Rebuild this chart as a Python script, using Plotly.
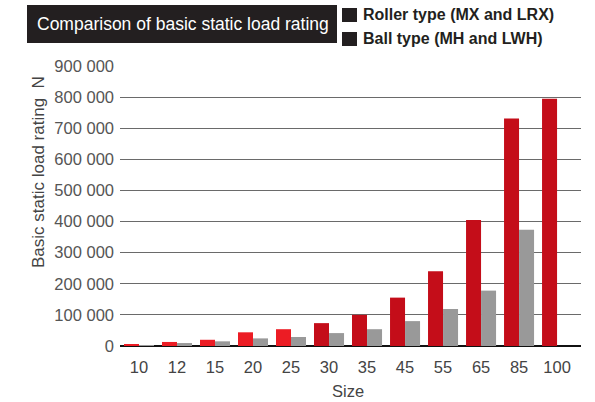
import plotly.graph_objects as go

sizes = ["10", "12", "15", "20", "25", "30", "35", "45", "55", "65", "85", "100"]
roller = [6000, 13000, 20000, 44000, 54000, 73500, 100000, 155500, 240000, 405000, 731000, 795000]
ball = [3000, 9500, 15000, 24500, 29000, 41500, 54000, 80000, 119000, 178000, 374000, 0]
ytick_vals = [0, 100000, 200000, 300000, 400000, 500000, 600000, 700000, 800000, 900000]
ytick_text = ["0", "100 000", "200 000", "300 000", "400 000", "500 000",
              "600 000", "700 000", "800 000", "900 000"]

bright_red = "#EC1C24"
dark_red = "#C40D19"
roller_colors = [bright_red if s in ("10", "12", "15", "20", "25") else dark_red for s in sizes]

font_fam = "Liberation Sans, Arial, Helvetica, sans-serif"

L, T = 120, 66
PW, PH = 461, 280


def px(x):
    return (x - 120) / PW


def py(y):
    return (346 - y) / PH


fig = go.Figure()
fig.add_bar(x=sizes, y=roller, marker_color=roller_colors, marker_line_width=0,
            name="Roller type (MX and LRX)", showlegend=False)
fig.add_bar(x=sizes, y=ball, marker_color="#999999", marker_line_width=0,
            name="Ball type (MH and LWH)", showlegend=False)

fig.update_layout(
    width=595, height=402,
    margin=dict(l=L, r=595 - L - PW, t=T, b=402 - T - PH, autoexpand=False),
    paper_bgcolor="white", plot_bgcolor="white",
    barmode="group", bargap=0.21, bargroupgap=0,
    font=dict(family=font_fam, color="#444444"),
    xaxis=dict(type="category", range=[-0.5, 11.63], showgrid=False,
               tickfont=dict(size=16.5, color="#444444"), ticks="",
               ticklabelstandoff=9, automargin=False,
               showline=False, zeroline=False),
    yaxis=dict(range=[0, 900000], tickvals=ytick_vals, ticktext=ytick_text,
               tickfont=dict(size=16.5, color="#555555"), automargin=False,
               showgrid=True, gridcolor="#6a6a6a", gridwidth=1.3,
               zeroline=True, zerolinecolor="#111111", zerolinewidth=1.6,
               ticks="", ticklabelstandoff=5, showline=False),
)

# title box
fig.add_shape(type="rect", xref="paper", yref="paper",
              x0=px(27), x1=px(337), y0=py(43), y1=py(5),
              fillcolor="#231f20", line_width=0, layer="above")
fig.add_annotation(xref="paper", yref="paper", x=px(183), y=py(24),
                   text="Comparison of basic static load rating", showarrow=False,
                   font=dict(family=font_fam, size=17.5, color="white"),
                   xanchor="center", yanchor="middle")

# legend squares and text
for i, label in enumerate(["Roller type (MX and LRX)", "Ball type (MH and LWH)"]):
    yc = 15 + i * 24
    fig.add_shape(type="rect", xref="paper", yref="paper",
                  x0=px(342), x1=px(357), y0=py(yc + 7), y1=py(yc - 7),
                  fillcolor="#231f20", line_width=0, layer="above")
    fig.add_annotation(xref="paper", yref="paper", x=px(361), y=py(yc),
                       text="<b>" + label + "</b>", showarrow=False,
                       xanchor="left", yanchor="middle",
                       font=dict(family=font_fam, size=16, color="#231f20"))

# axis titles
fig.add_annotation(xref="paper", yref="paper", x=px(38), y=py(172),
                   text="Basic static load rating  N", textangle=-90, showarrow=False,
                   xanchor="center", yanchor="middle",
                   font=dict(family=font_fam, size=17, color="#444444"))
fig.add_annotation(xref="paper", yref="paper", x=px(348), y=py(391),
                   text="Size", showarrow=False, xanchor="center", yanchor="middle",
                   font=dict(family=font_fam, size=16.5, color="#444444"))

fig.write_html("out.html", config={"displayModeBar": False},
               post_script="document.body.style.margin='0px';document.body.style.overflow='hidden';")
